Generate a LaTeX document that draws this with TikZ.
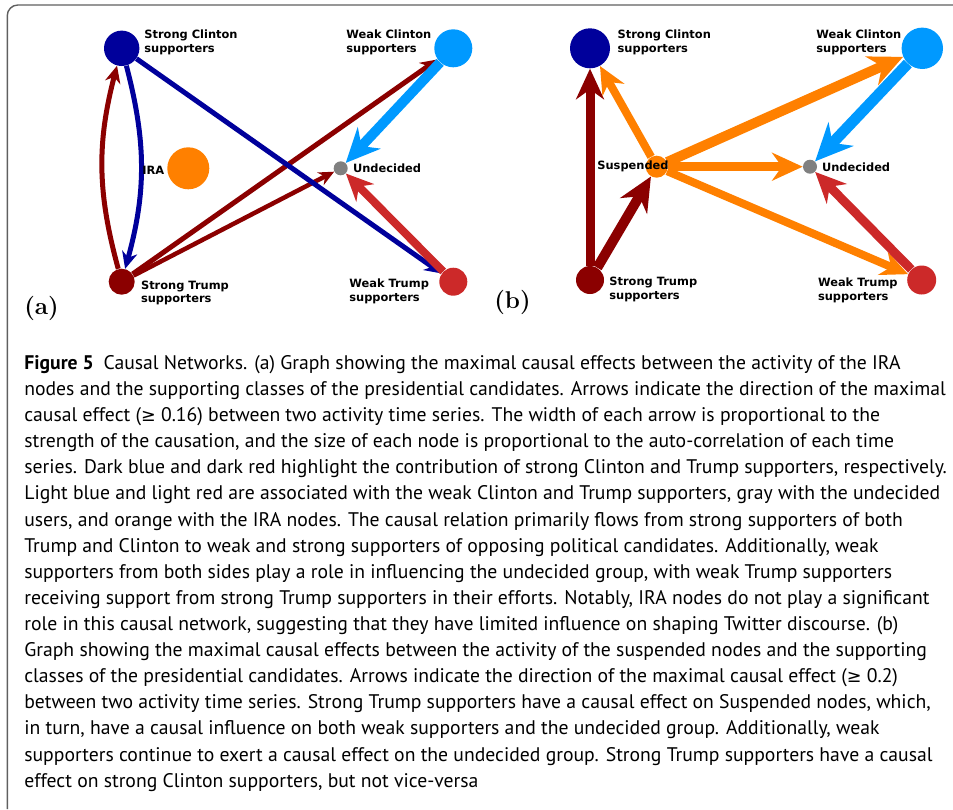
\documentclass[tikz,border=0pt]{standalone}
\usepackage{fontspec}
\newfontfamily\labfam{DejaVu Sans}
\newfontfamily\capfam{PT Sans}
\usetikzlibrary{arrows.meta, positioning, backgrounds}
\definecolor{sclin}{RGB}{0,0,155}
\definecolor{wclin}{RGB}{0,153,255}
\definecolor{strmp}{RGB}{139,0,0}
\definecolor{wtrmp}{RGB}{204,41,41}
\definecolor{iraor}{RGB}{255,128,0}
\definecolor{undgr}{RGB}{128,128,128}
\definecolor{framegr}{RGB}{95,95,95}
\newcommand{\geqsym}{{\labfam\fontsize{10}{12}\selectfont ≥}}

\begin{document}
\begin{tikzpicture}[
    x=0.02cm, y=-0.02cm,
    grp/.style={circle, inner sep=0pt, draw=none, minimum size=2*#1*0.02cm},
    lab/.style={font=\labfam\bfseries\fontsize{6.5}{7.9}\selectfont, align=left, inner sep=0pt, anchor=west},
    panel/.style={font=\bfseries\fontsize{13.8}{16}\selectfont, inner sep=0pt, anchor=base west},
    captxt/.style={font=\capfam\fontsize{11.2}{14.86}\selectfont, align=left, inner sep=0pt, anchor=north west},
    arr/.style={-{Stealth[length=0pt 3.4, width=0pt 3.1, inset=0pt 1.1]}, line width=#1*0.02cm},
  ]
  \useasboundingbox (0,0) rectangle (953,809);
  \draw[framegr, line width=0.8pt, rounded corners=6pt] (7.3,809) -- (7.3,5) -- (953,5);

  % (a)
  \node[grp=17.7, fill=sclin] (asc) at (121.7,48.3) {};
  \node[grp=19, fill=wclin] (awc) at (453.3,48.3) {};
  \node[grp=21, fill=iraor] (aira) at (188.3,168.3) {};
  \node[grp=7, fill=undgr] (aun) at (340.7,168.3) {};
  \node[grp=13, fill=strmp] (ast) at (121.7,281.7) {};
  \node[grp=14, fill=wtrmp] (awt) at (453.3,281.7) {};

  \node[lab] at (144,42) {Strong Clinton\\supporters};
  \node[lab] at (346,42) {Weak Clinton\\supporters};
  \node[lab] at (142,170) {IRA};
  \node[lab] at (352.7,168) {Undecided};
  \node[lab] at (140.7,293) {Strong Trump\\supporters};
  \node[lab] at (349,291) {Weak Trump\\supporters};

  \begin{scope}[on background layer]
    \draw[arr=5, strmp] (ast) to[bend left=15] (asc);
    \draw[arr=5, sclin] (asc) to[bend left=15] (ast);
    \draw[arr=5, strmp] (ast) -- (awc); \draw[arr=4.5, strmp] (ast) -- (aun);
    \draw[arr=5, sclin] (asc) -- (awt);
    \draw[arr=10, wclin] (awc) -- (aun); \draw[arr=8, wtrmp] (awt) -- (aun);
  \end{scope}

  \node[panel] (pa) at (24,314) {(a)};

  % (b)
  \node[grp=20, fill=sclin] (bsc) at (590,48.3) {};
  \node[grp=20.7, fill=wclin] (bwc) at (922.3,48.3) {};
  \node[grp=11, fill=iraor] (bsu) at (656.7,166.7) {};
  \node[grp=7, fill=undgr] (bun) at (810,166.7) {};
  \node[grp=14, fill=strmp] (bst) at (590,280) {};
  \node[grp=14.5, fill=wtrmp] (bwt) at (921.7,280) {};

  \node[lab] at (617.3,42) {Strong Clinton\\supporters};
  \node[lab] at (816,42) {Weak Clinton\\supporters};
  \node[lab] at (597,166) {Suspended};
  \node[lab] at (821.7,167) {Undecided};
  \node[lab] at (609,289.3) {Strong Trump\\supporters};
  \node[lab] at (817.7,290) {Weak Trump\\supporters};

  \begin{scope}[on background layer]
    \draw[arr=9, strmp] (bst) -- (bsc); \draw[arr=10, strmp] (bst) -- (bsu);
    \draw[arr=8, iraor] (bsu) -- (bsc); \draw[arr=10, iraor] (bsu) -- (bwc);
    \draw[arr=9, iraor] (bsu) -- (bun); \draw[arr=8, iraor] (bsu) -- (bwt);
    \draw[arr=11, wclin] (bwc) -- (bun); \draw[arr=9, wtrmp] (bwt) -- (bun);
  \end{scope}

  \node[panel] (pb) at (494,308) {(b)};

  \node[captxt] (cap) at (24,355) {\textbf{Figure 5}\hspace{0.5em}Causal Networks. (a) Graph showing the maximal causal effects between the activity of the IRA\\
    nodes and the supporting classes of the presidential candidates. Arrows indicate the direction of the maximal\\
    causal effect (\geqsym\ 0.16) between two activity time series. The width of each arrow is proportional to the\\
    strength of the causation, and the size of each node is proportional to the auto-correlation of each time\\
    series. Dark blue and dark red highlight the contribution of strong Clinton and Trump supporters, respectively.\\
    Light blue and light red are associated with the weak Clinton and Trump supporters, gray with the undecided\\
    users, and orange with the IRA nodes. The causal relation primarily flows from strong supporters of both\\
    Trump and Clinton to weak and strong supporters of opposing political candidates. Additionally, weak\\
    supporters from both sides play a role in influencing the undecided group, with weak Trump supporters\\
    receiving support from strong Trump supporters in their efforts. Notably, IRA nodes do not play a significant\\
    role in this causal network, suggesting that they have limited influence on shaping Twitter discourse. (b)\\
    Graph showing the maximal causal effects between the activity of the suspended nodes and the supporting\\
    classes of the presidential candidates. Arrows indicate the direction of the maximal causal effect (\geqsym\ 0.2)\\
    between two activity time series. Strong Trump supporters have a causal effect on Suspended nodes, which,\\
    in turn, have a causal influence on both weak supporters and the undecided group. Additionally, weak\\
    supporters continue to exert a causal effect on the undecided group. Strong Trump supporters have a causal\\
    effect on strong Clinton supporters, but not vice-versa};
\end{tikzpicture}
\end{document}
